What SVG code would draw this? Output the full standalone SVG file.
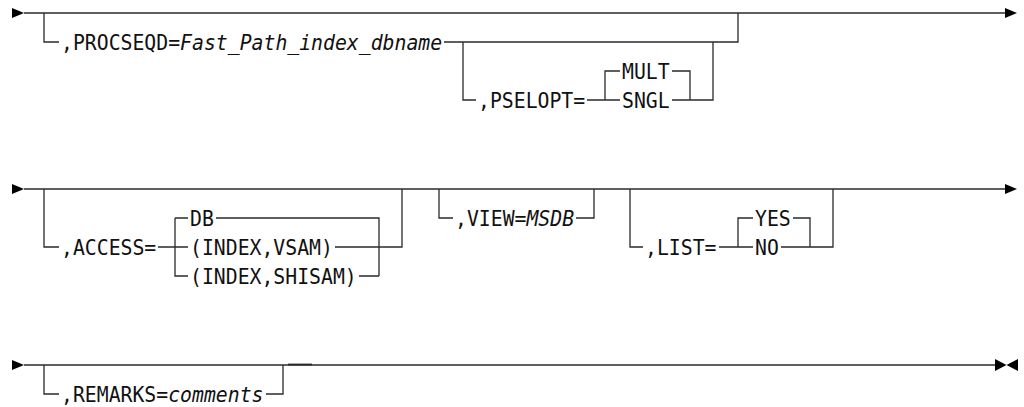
<svg xmlns="http://www.w3.org/2000/svg" width="1024" height="407" viewBox="0 0 1024 407">
<style>
  .ln { fill: none; stroke: #2a2a2a; stroke-width: 1.3; }
  .t { font-family: "DejaVu Sans Mono", "Liberation Mono", monospace; font-size: 19.8px; fill: #111; }
  .v { font-style: italic; }
  .ah { fill: #000; }
</style>
<rect width="1024" height="407" fill="#fff"/>
<g id="connectors">
  <!-- row 1 -->
  <path class="ln" d="M24 13 H1005"/>
  <path class="ln" d="M44 13 V42 H59 M444 42 H738 V13"/>
  <path class="ln" d="M463 42 V100 H476 M587 100 H620 M605 100 V71 H620 M672 71 H690 V100 M672 100 H713 V42"/>
  <!-- row 2 -->
  <path class="ln" d="M24 189 H1005"/>
  <path class="ln" d="M44 189 V247 H59 M158 247 H188 M175 218 V276 H188 M175 218 H188 M216 218 H379 V276 M359 276 H379 M335 247 H402 V189"/>
  <path class="ln" d="M439 189 V218 H453 M576 218 H594 V189"/>
  <path class="ln" d="M630 189 V247 H643 M719 247 H753 M738 247 V218 H753 M793 218 H810 V247 M781 247 H833 V189"/>
  <!-- row 3 -->
  <path class="ln" d="M24 365 H995"/>
  <path class="ln" d="M44 365 V394 H59 M266 394 H283 V365"/>
  <path d="M288 364.5 H312" stroke="#2a2a2a" stroke-width="1.8" fill="none"/>
  <!-- arrowheads -->
  <polygon class="ah" points="12,8 24,13 12,18"/>
  <polygon class="ah" points="1005,8 1017,13 1005,18"/>
  <polygon class="ah" points="12,184 24,189 12,194"/>
  <polygon class="ah" points="1005,184 1017,189 1005,194"/>
  <polygon class="ah" points="12,360 24,365 12,370"/>
  <polygon class="ah" points="995,359 1006.5,365 995,371"/>
  <polygon class="ah" points="1018,359 1006.5,365 1018,371"/>
</g>
<g id="procseqd" transform="translate(0 50) scale(1 1.085)">
  <text class="t" x="61" y="0">,PROCSEQD=<tspan class="v">Fast_Path_index_dbname</tspan></text>
</g>
<g id="pselopt" transform="translate(0 108) scale(1 1.085)"><text class="t" x="478" y="0">,PSELOPT=</text></g>
<g id="mult" transform="translate(0 79) scale(1 1.085)"><text class="t" x="622" y="0">MULT</text></g>
<g id="sngl" transform="translate(0 108) scale(1 1.085)"><text class="t" x="622" y="0">SNGL</text></g>
<g id="access" transform="translate(0 255) scale(1 1.085)"><text class="t" x="61" y="0">,ACCESS=</text></g>
<g id="db" transform="translate(0 226) scale(1 1.085)"><text class="t" x="190" y="0">DB</text></g>
<g id="index-vsam" transform="translate(0 255) scale(1 1.085)"><text class="t" x="190" y="0">(INDEX,VSAM)</text></g>
<g id="index-shisam" transform="translate(0 284) scale(1 1.085)"><text class="t" x="190" y="0">(INDEX,SHISAM)</text></g>
<g id="view" transform="translate(0 226) scale(1 1.085)">
  <text class="t" x="455" y="0">,VIEW=<tspan class="v">MSDB</tspan></text>
</g>
<g id="list" transform="translate(0 255) scale(1 1.085)"><text class="t" x="645" y="0">,LIST=</text></g>
<g id="yes" transform="translate(0 226) scale(1 1.085)"><text class="t" x="755" y="0">YES</text></g>
<g id="no" transform="translate(0 255) scale(1 1.085)"><text class="t" x="755" y="0">NO</text></g>
<g id="remarks" transform="translate(0 402) scale(1 1.085)">
  <text class="t" x="61" y="0">,REMARKS=<tspan class="v">comments</tspan></text>
</g>
</svg>
